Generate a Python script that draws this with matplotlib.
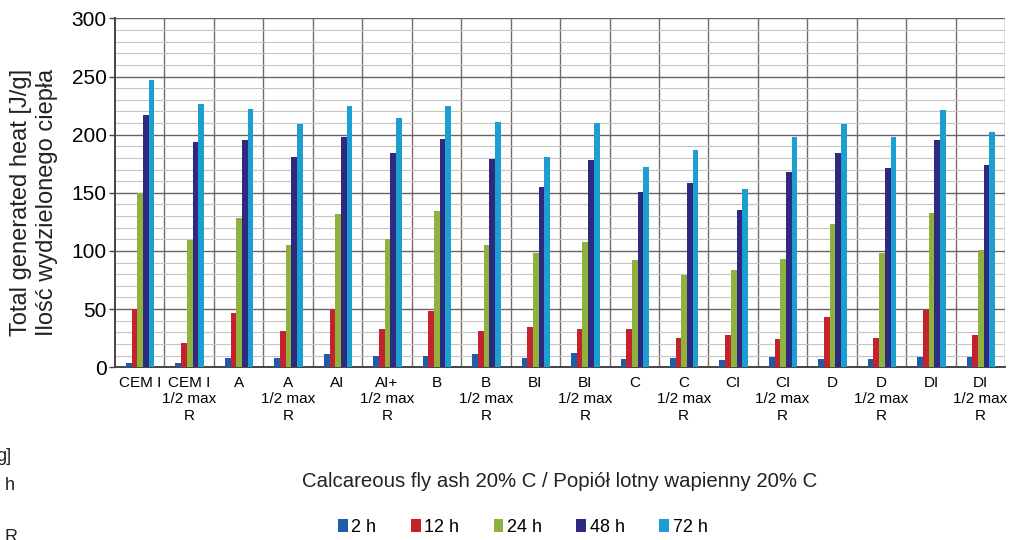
import numpy as np
import matplotlib
matplotlib.use("Agg")
import matplotlib.pyplot as plt
from matplotlib.ticker import MultipleLocator

plt.rcParams['font.family'] = ['Liberation Sans', 'DejaVu Sans']

# mixes with calcareous fly ash, heat of hydration after 2..72 h
mixes = ["CEM I", "CEM I\n1/2 max\nR", "A", "A\n1/2 max\nR", "AI", "AI+\n1/2 max\nR",
         "B", "B\n1/2 max\nR", "BI", "BI\n1/2 max\nR", "C", "C\n1/2 max\nR",
         "CI", "CI\n1/2 max\nR", "D", "D\n1/2 max\nR", "DI", "DI\n1/2 max\nR"]
times = ["2 h", "12 h", "24 h", "48 h", "72 h"]

heat_2h = [4, 4, 8, 8, 11, 10, 10, 11, 8, 12, 7, 8, 6, 9, 7, 7, 9, 9]
heat_12h = [50, 21, 47, 31, 50, 33, 48, 31, 35, 33, 33, 25, 28, 24, 43, 25, 49, 28]
heat_24h = [150, 109, 128, 105, 132, 110, 134, 105, 98, 108, 92, 79, 84, 93, 123, 98, 133, 101]
heat_48h = [217, 194, 195, 181, 198, 184, 196, 179, 155, 178, 151, 158, 135, 168, 184, 171, 195, 174]
heat_72h = [247, 226, 222, 209, 225, 214, 225, 211, 181, 210, 172, 187, 153, 198, 209, 198, 221, 202]

series = [heat_2h, heat_12h, heat_24h, heat_48h, heat_72h]
colours = ["#1f5cab", "#c4232e", "#8fb23c", "#2d2a7f", "#1c9fd0"]

fig = plt.figure(figsize=(10.15, 5.4), dpi=100)
ax = fig.add_axes([0.1133, 0.320, 0.877, 0.646])

x = np.arange(len(mixes))
w = 0.115
for k, (vals, col) in enumerate(zip(series, colours)):
    ax.bar(x + (k - 2) * w + 0.01, vals, width=w, color=col, label=times[k], zorder=3)

ax.set_xlim(-0.5, len(mixes) - 0.5)
ax.set_ylim(0, 300)
ax.yaxis.set_major_locator(MultipleLocator(50))
ax.yaxis.set_minor_locator(MultipleLocator(10))
ax.grid(axis='y', which='major', color='#6b6262', lw=1.0, zorder=1)
ax.grid(axis='y', which='minor', color='#c9c4c4', lw=0.8, zorder=0)
for b in np.arange(0.5, len(mixes), 1.0):
    ax.axvline(b, color='#776a6a', lw=1.0, zorder=1)

ax.set_xticks(x)
ax.set_xticklabels(mixes, fontsize=11, linespacing=1.25)
ax.tick_params(axis='x', length=0, pad=6)
ax.tick_params(axis='y', which='major', labelsize=15, length=4, width=1, color='#444444', pad=2)
ax.tick_params(axis='y', which='minor', length=0)

for s in ['top', 'right']:
    ax.spines[s].set_visible(False)
ax.spines['left'].set_color('#444444')
ax.spines['left'].set_linewidth(1.4)
ax.spines['bottom'].set_color('#444444')
ax.spines['bottom'].set_linewidth(1.4)

# two-line axis title in English and Polish
fig.text(0.0205, 0.626, "Total generated heat [J/g]", rotation=90, fontsize=17,
         ha='center', va='center', color='#222222')
fig.text(0.0465, 0.626, "Ilość wydzielonego ciepła", rotation=90, fontsize=17,
         ha='center', va='center', color='#222222')

fig.text(0.551, 0.108, "Calcareous fly ash 20% C / Popiół lotny wapienny 20% C",
         ha='center', va='center', fontsize=14.7, color='#222222')

handles, labels = ax.get_legend_handles_labels()
fig.legend(handles, labels, loc='center', bbox_to_anchor=(0.515, 0.024), ncol=5,
           frameon=False, fontsize=13, handlelength=0.55, handleheight=0.75,
           handletextpad=0.2, columnspacing=1.9, borderpad=0)

# clipped labels of the neighbouring panel at the left edge
fig.text(-0.004, 0.155, "g]", fontsize=13, va='center', ha='left', color='#222222')
fig.text(0.005, 0.101, "h", fontsize=13, va='center', ha='left', color='#222222')
fig.text(0.004, 0.004, "R", fontsize=13, va='center', ha='left', color='#222222')

fig.savefig("out.png", dpi=100)
